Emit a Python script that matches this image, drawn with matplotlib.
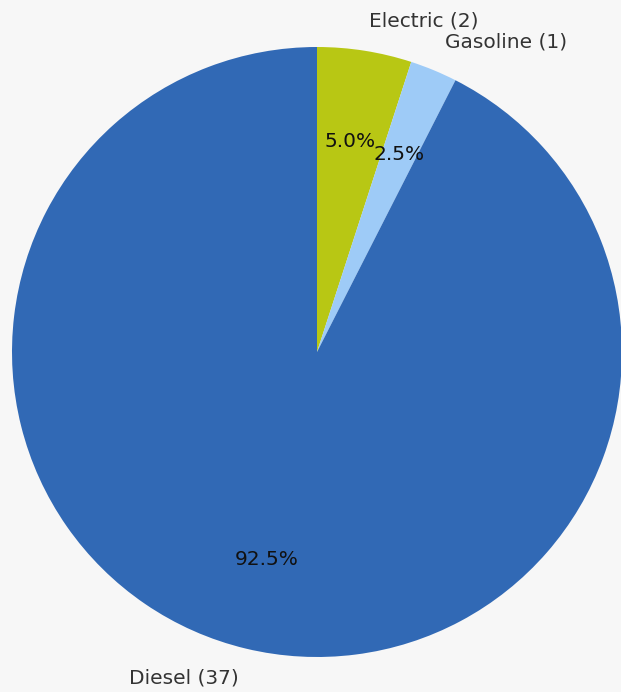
import matplotlib

matplotlib.use("Agg")
import matplotlib.pyplot as plt

plt.rcParams["font.family"] = ["DejaVu Sans"]

fuel_types = ["Electric", "Gasoline", "Diesel"]
counts = [2, 1, 37]
colors = ["#b8c714", "#9ecbf7", "#3169b5"]

labels = [f"{name} ({n})" for name, n in zip(fuel_types, counts)]

W, H = 621, 692
fig = plt.figure(figsize=(W / 100, H / 100), dpi=100)
fig.patch.set_facecolor("#f7f7f7")
ax = fig.add_axes([0, 0, 1, 1])
ax.set_facecolor("#f7f7f7")

wedges, texts, autotexts = ax.pie(
    counts,
    labels=labels,
    colors=colors,
    startangle=90,
    counterclock=False,
    autopct="%1.1f%%",
    pctdistance=0.7,
    labeldistance=1.1,
    textprops={"fontsize": 14.5},
)
for t in texts:
    t.set_color("#333333")
for t in autotexts:
    t.set_color("#111111")

# centre at (317, 352) px from top-left, radius ~305 px
cx, cy, r = 317, H - 352, 305
ax.set_xlim(-cx / r, (W - cx) / r)
ax.set_ylim(-cy / r, (H - cy) / r)
ax.set_aspect("auto")
ax.axis("off")

fig.savefig("out.png", dpi=100, facecolor=fig.get_facecolor())
